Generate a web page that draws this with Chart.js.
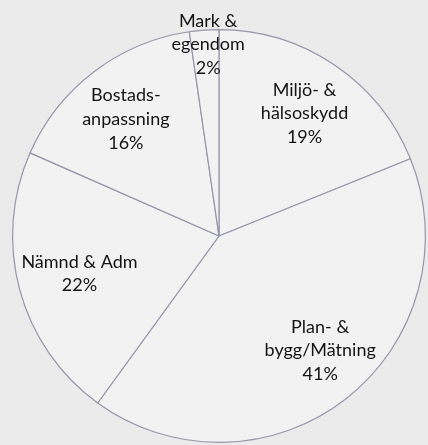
<!DOCTYPE html>
<html>
<head>
<meta charset="utf-8">
<script src="https://cdn.jsdelivr.net/npm/chart.js@4"></script>
<style>
  html, body { margin:0; padding:0; background:#ebebeb; overflow:hidden; width:428px; height:445px; }
  canvas { position:absolute; left:0; top:0; }
</style>
</head>
<body>
<canvas id="c" width="428" height="445"></canvas>
<script>
const categories = ['Miljö- &\nhälsoskydd', 'Plan- &\nbygg/Mätning', 'Nämnd & Adm', 'Bostads-\nanpassning', 'Mark &\negendom'];
const values = [18.9, 41.1, 21.6, 16.1, 2.3];
const percentLabels = ['19%', '41%', '22%', '16%', '2%'];
const labelRadiusFraction = [0.724, 0.74, 0.70, 0.724, 0.93];
const labelAngleShiftDeg = [0.9, -3.5, 0, -1.3, 0.9];

const labelPlugin = {
  id: 'sliceLabels',
  afterDatasetsDraw(chart) {
    const ctx = chart.ctx;
    const meta = chart.getDatasetMeta(0);
    ctx.save();
    ctx.font = '18px Lato, "Liberation Sans", sans-serif';
    ctx.fillStyle = '#141414';
    ctx.textAlign = 'center';
    ctx.textBaseline = 'middle';
    const lh = 23.6;
    meta.data.forEach((arc, i) => {
      const p = arc.getProps(['x','y','startAngle','endAngle','outerRadius'], true);
      const mid = (p.startAngle + p.endAngle) / 2 + labelAngleShiftDeg[i] * Math.PI / 180;
      const r = p.outerRadius * labelRadiusFraction[i];
      const cx = p.x + Math.cos(mid) * r;
      const cy = p.y + Math.sin(mid) * r;
      const lines = categories[i].split('\n').concat([percentLabels[i]]);
      const top = cy - (lines.length - 1) * lh / 2;
      lines.forEach((t, k) => ctx.fillText(t, cx, top + k * lh));
    });
    ctx.restore();
  }
};

new Chart(document.getElementById('c'), {
  type: 'pie',
  data: {
    labels: categories,
    datasets: [{
      data: values,
      backgroundColor: '#f2f2f2',
      borderColor: '#9696ab',
      borderWidth: 1.2,
      hoverOffset: 0
    }]
  },
  options: {
    responsive: false,
    animation: false,
    layout: { padding: { left: 12, top: 29, right: 2, bottom: 2 } },
    plugins: { legend: { display: false }, tooltip: { enabled: false } },
    events: []
  },
  plugins: [labelPlugin]
});
</script>
</body>
</html>
